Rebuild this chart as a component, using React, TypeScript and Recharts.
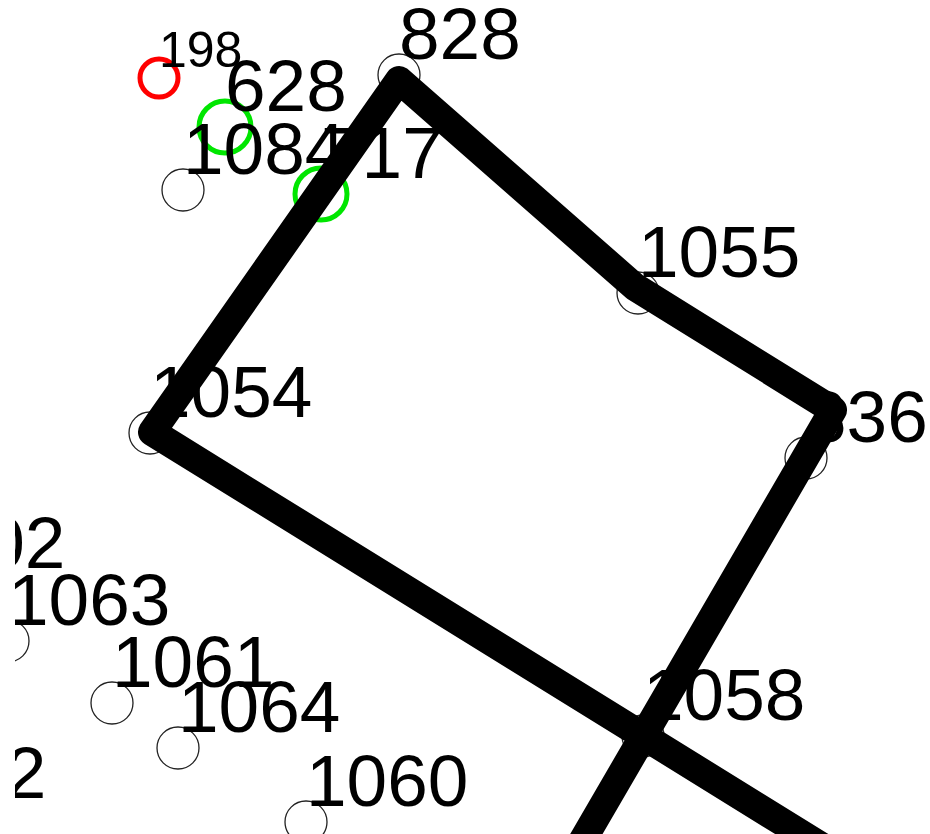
import React from 'react';
import { ScatterChart, Scatter, XAxis, YAxis } from 'recharts';

// Node labels and positions (map units, y pointing up)
const pointLabels = ['198', '628', '1084', '717', '828', '1055', '836', '1054', '1058', '1002', '1063', '1061', '1064', '1062', '1060'];
const pointX = [159, 225, 183, 321, 399, 638, 806, 150, 643, -97, 8, 112, 178, -116, 306];
const pointY = [756, 707, 644, 640, 759, 541, 376, 401, 98, 250, 193, 131, 86, 20, 12];
const pointKind = ['red', 'green', 'plain', 'green', 'plain', 'plain', 'plain', 'plain', 'plain', 'plain', 'plain', 'plain', 'plain', 'plain', 'plain'];

// Route drawn as a thick polyline
const routeX = [910, 152, 399, 635, 833, 548];
const routeY = [-67, 402, 754, 547, 424, -66];

const points = pointLabels.map((label, i) => ({ x: pointX[i], y: pointY[i], label, kind: pointKind[i] }));
const route = routeX.map((x, i) => ({ x, y: routeY[i] }));

const FONT = '"Liberation Sans", Arial, sans-serif';

const NodeShape = (props: any) => {
  const { cx, cy, payload } = props;
  if (cx == null || cy == null) return <g />;
  const kind = payload.kind;
  const small = kind === 'red';
  const fs = small ? 50 : 73;
  let r = 21;
  let stroke = '#222';
  let sw = 1.3;
  if (kind === 'red') { r = 19; stroke = '#ff0000'; sw = 5; }
  if (kind === 'green') { r = 26; stroke = '#00e600'; sw = 5; }
  return (
    <g>
      <circle cx={cx} cy={cy} r={r} fill="none" stroke={stroke} strokeWidth={sw} />
      <text x={cx} y={cy - fs * 0.22} fontSize={fs} fontFamily={FONT} fill="#000" textAnchor="start">
        {payload.label}
      </text>
    </g>
  );
};

const NoShape = () => <g />;

export default function App() {
  return (
    <div style={{ position: 'fixed', left: 0, top: 0, width: 930, height: 834, background: '#fff' }}>
      <ScatterChart width={930} height={834} margin={{ top: 0, right: 0, bottom: 0, left: 15 }}>
        <XAxis type="number" dataKey="x" domain={[15, 930]} allowDataOverflow hide />
        <YAxis type="number" dataKey="y" domain={[0, 834]} allowDataOverflow hide />
        <Scatter data={points} shape={NodeShape} isAnimationActive={false} />
        <Scatter
          data={route}
          shape={NoShape}
          line={{ stroke: '#000', strokeWidth: 28, strokeLinejoin: 'round', strokeLinecap: 'butt', fill: 'none' }}
          lineType="joint"
          isAnimationActive={false}
        />
      </ScatterChart>
    </div>
  );
}
